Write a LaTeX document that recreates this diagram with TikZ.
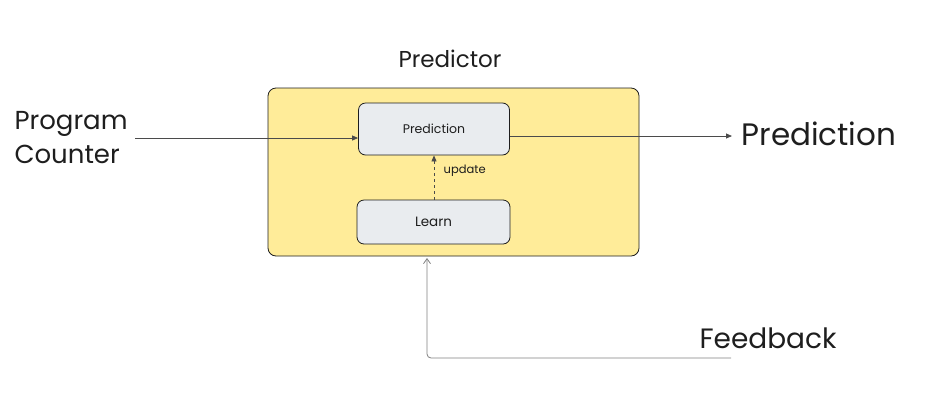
\documentclass[tikz,border=0pt]{standalone}
\usepackage{fontspec}
\setmainfont{Poppins}
\usetikzlibrary{arrows.meta,positioning}

\definecolor{boxyellow}{HTML}{FFEC99}
\definecolor{boxgray}{HTML}{E9ECEF}
\definecolor{inkline}{HTML}{1E1E1E}

\begin{document}
\begin{tikzpicture}[x=1pt,y=-1pt,every node/.style={align=center,text=inkline},
	unit/.style={draw=inkline,fill=boxgray,rounded corners=7pt,line width=0.8pt,minimum width=151pt,font=\fontsize{12.5}{15}\selectfont},
	link/.style={draw=inkline!80,line width=0.8pt,-{Triangle[length=6pt,width=5pt]}}]
	\useasboundingbox (0,0) rectangle (941,416);
	% predictor frame
	\node [draw=inkline,fill=boxyellow,rounded corners=8pt,line width=0.8pt,minimum width=371pt,minimum height=168pt] (predictor) at (453.5,172) {};
	\node [font=\fontsize{23}{27}\selectfont] (title) at (450,59) {Predictor};
	\node [unit,minimum height=52pt] (predict) at (434,129) {\raisebox{-2pt}{Prediction}};
	\node [unit,minimum width=153pt,minimum height=44pt,font=\fontsize{13.5}{16}\selectfont] (learn) at (433.5,222) {Learn};
	\draw [link,dashed] (learn.north -| predict.south) -- node [pos=0.65,right=6pt,font=\fontsize{11.5}{14}\selectfont] (upd) {update} (predict.south);
	% outside
	\node [font=\fontsize{26}{34}\selectfont,align=left,anchor=west] (pc) at (11,138) {Program\\Counter};
	\node [font=\fontsize{31}{36}\selectfont,anchor=west] (out) at (738,134) {Prediction};
	\node [font=\fontsize{28}{32}\selectfont,anchor=west] (fb) at (696,338) {Feedback};
	\coordinate (fbend) at (731,358);
	\draw [link] (135,138) -- (predict.west |- 0,138); % <- PC in
	\draw [link] (predict.east |- 0,136) -- (732,136);
	\draw [draw=gray,line width=0.8pt,rounded corners=4pt,-{Straight Barb[length=5pt,width=7pt]}] (fbend) -- (427,358) -- (427,258);
\end{tikzpicture}
\end{document}
